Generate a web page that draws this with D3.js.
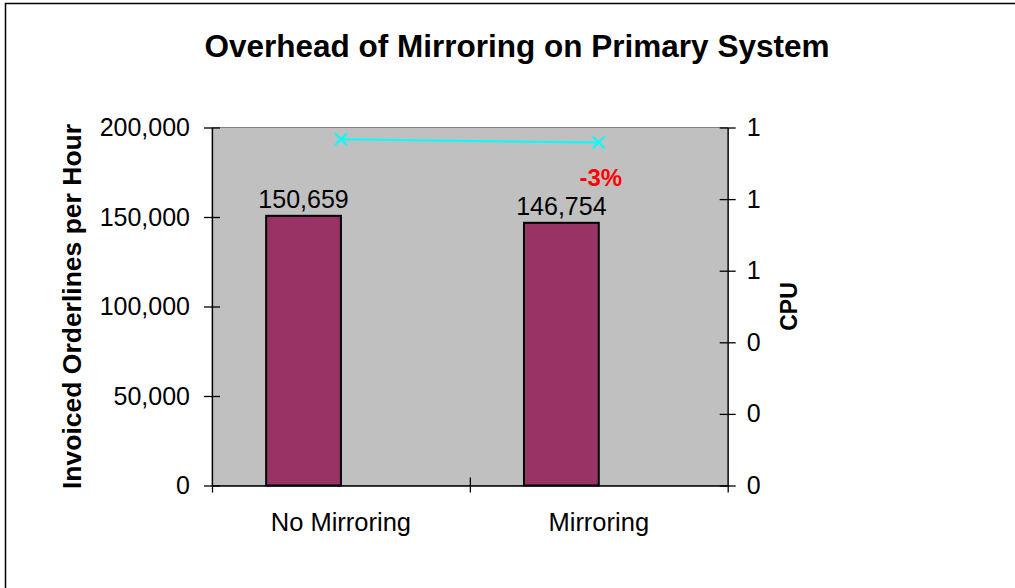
<!DOCTYPE html>
<html>
<head>
<meta charset="utf-8">
<script src="https://cdn.jsdelivr.net/npm/d3@7"></script>
<style>
  html, body { margin: 0; padding: 0; background: #fff; }
  svg { display: block; font-family: "Liberation Sans", Arial, sans-serif; }
</style>
</head>
<body>
<svg id="chart" width="1015" height="588"></svg>
<script>
const categories = ["No Mirroring", "Mirroring"];
const orderlines = [150659, 146754];
const cpu = [0.967, 0.958];
const leftTicks = [0, 50000, 100000, 150000, 200000];
const rightTicks = [0, 0.2, 0.4, 0.6, 0.8, 1];
const title = "Overhead of Mirroring on Primary System";
const yTitle = "Invoiced Orderlines per Hour";
const y2Title = "CPU";
const deltaLabel = "-3%";

const svg = d3.select("#chart");
const L = 212, R = 727.7, T = 127.5, B = 485.5;

// outer frame (cut off at right and bottom)
svg.append("rect").attr("x", 5.5).attr("y", 3.5).attr("width", 1100).attr("height", 700)
  .attr("fill", "#fff").attr("stroke", "#000").attr("stroke-width", 1.5);

const x = d3.scaleBand().domain(categories).range([L, R]).padding(0);
const y = d3.scaleLinear().domain([0, 200000]).range([B, T]);
const y2 = d3.scaleLinear().domain([0, 1]).range([B, T]);

// plot background
svg.append("rect").attr("x", L).attr("y", T).attr("width", R - L).attr("height", B - T)
  .attr("fill", "#C0C0C0").attr("stroke", "#808080").attr("stroke-width", 1);

// bars
const bw = x.bandwidth();
svg.append("g").selectAll("rect").data(orderlines).join("rect")
  .attr("x", (d, i) => x(categories[i]) + 0.21 * bw)
  .attr("width", 0.29 * bw)
  .attr("y", d => y(d))
  .attr("height", d => B - y(d))
  .attr("fill", "#993366").attr("stroke", "#000").attr("stroke-width", 2);

// bar value labels
svg.append("g").selectAll("text").data(orderlines).join("text")
  .attr("x", (d, i) => x(categories[i]) + 0.355 * bw)
  .attr("y", d => y(d) - 8)
  .attr("text-anchor", "middle")
  .attr("font-size", 25)
  .attr("fill", "#000")
  .text(d => d3.format(",")(d));

// axes
const fmtLeft = d3.format(",");
const fmtRight = d3.format(".0f");
const axL = svg.append("g").attr("transform", `translate(${L},0)`)
  .call(d3.axisLeft(y).tickValues(leftTicks).tickFormat(fmtLeft).tickSizeInner(8).tickSizeOuter(0).tickPadding(14));
axL.selectAll(".tick line").attr("x2", 8).attr("x1", -8);
const axR = svg.append("g").attr("transform", `translate(${R},0)`)
  .call(d3.axisRight(y2).tickValues(rightTicks).tickFormat(fmtRight).tickSizeInner(8).tickSizeOuter(0).tickPadding(11));
axR.selectAll(".tick line").attr("x1", -8).attr("x2", 8);
const xTickVals = [L, L + bw, R];
const axB = svg.append("g").attr("transform", `translate(0,${B})`)
  .call(d3.axisBottom(d3.scaleLinear().domain([L, R]).range([L, R])).tickValues(xTickVals).tickFormat("").tickSizeInner(7).tickSizeOuter(0));
axB.selectAll(".tick line").attr("y1", -8).attr("y2", 7);
axB.selectAll(".tick line").filter((d, i) => i !== 1).attr("y1", 0);
[axL, axR, axB].forEach(a => {
  a.select(".domain").attr("stroke", "#000").attr("stroke-width", 1.3);
  a.selectAll(".tick line").attr("stroke", "#000").attr("stroke-width", 1.3);
  a.selectAll("text").attr("font-size", 25).attr("fill", "#000").attr("font-family", "Liberation Sans, Arial, sans-serif");
});

// category labels
svg.append("g").selectAll("text").data(categories).join("text")
  .attr("x", d => x(d) + bw / 2)
  .attr("y", 531)
  .attr("text-anchor", "middle")
  .attr("font-size", 25.5)
  .text(d => d);

// CPU line
const pts = cpu.map((v, i) => [x(categories[i]) + bw / 2, y2(v)]);
svg.append("path").attr("d", d3.line()(pts)).attr("fill", "none")
  .attr("stroke", "#00FFFF").attr("stroke-width", 2);
svg.append("g").selectAll("path").data(pts).join("path")
  .attr("d", d => `M${d[0]-6},${d[1]-6}L${d[0]+6},${d[1]+6}M${d[0]-6},${d[1]+6}L${d[0]+6},${d[1]-6}`)
  .attr("stroke", "#00FFFF").attr("stroke-width", 2);

// delta label
svg.append("text").attr("x", pts[1][0] + 2).attr("y", 186)
  .attr("text-anchor", "middle").attr("font-size", 24).attr("font-weight", "bold")
  .attr("fill", "#FF0000").text(deltaLabel);

// title
svg.append("text").attr("x", 517).attr("y", 57).attr("text-anchor", "middle")
  .attr("font-size", 31.5).attr("font-weight", "bold").text(title);

// axis titles
svg.append("text").attr("transform", `translate(81,${(T + B) / 2}) rotate(-90)`)
  .attr("text-anchor", "middle").attr("font-size", 26.5).attr("font-weight", "bold").text(yTitle);
svg.append("text").attr("transform", `translate(797,${(T + B) / 2}) rotate(-90)`)
  .attr("text-anchor", "middle").attr("font-size", 23).attr("font-weight", "bold").text(y2Title);
</script>
</body>
</html>
